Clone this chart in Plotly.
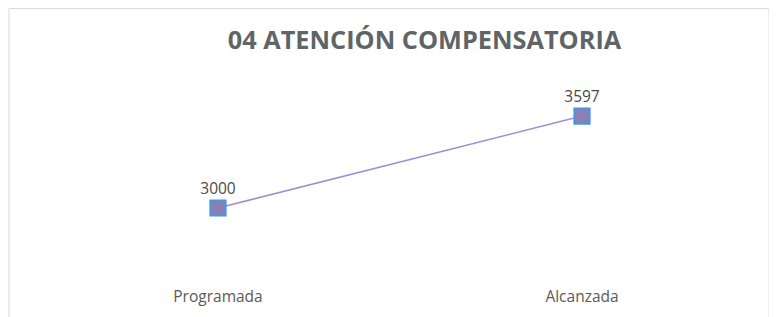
import plotly.graph_objects as go

categories = ["Programada", "Alcanzada"]
values = [3000, 3597]
title_text = "04 ATENCIÓN COMPENSATORIA"

fig = go.Figure()
fig.add_trace(go.Scatter(
    x=categories, y=values,
    mode="lines+markers+text",
    text=[str(v) for v in values],
    textposition="top center",
    textfont=dict(family="Open Sans", size=15.5, color="#4a4a4a"),
    line=dict(color="#a58ad6", width=1.6),
    marker=dict(symbol="square", size=15, color="#8a80b5",
                line=dict(color="#4f92dc", width=2.2)),
    cliponaxis=False,
    showlegend=False,
))

fig.update_layout(
    width=777, height=317,
    margin=dict(l=28, r=21, t=46, b=40),
    paper_bgcolor="white", plot_bgcolor="white",
    title=dict(text="<b>" + title_text + "</b>", x=0.536, xanchor="center",
               y=0.899, yanchor="middle",
               font=dict(family="Open Sans", size=25.3, color="#5f6566")),
    xaxis=dict(type="category", range=[-0.5, 1.5], showgrid=False,
               showline=False, zeroline=False, ticks="",
               tickfont=dict(family="Open Sans", size=15.5, color="#5a5a5a")),
    yaxis=dict(range=[2500, 4000], visible=False, showgrid=False, zeroline=False),
    shapes=[dict(type="rect", xref="paper", yref="paper",
                 x0=-0.037, x1=1.007, y0=-0.2, y1=1.197,
                 line=dict(color="#d9d9d9", width=1))],
)

fig.write_html("out.html")
